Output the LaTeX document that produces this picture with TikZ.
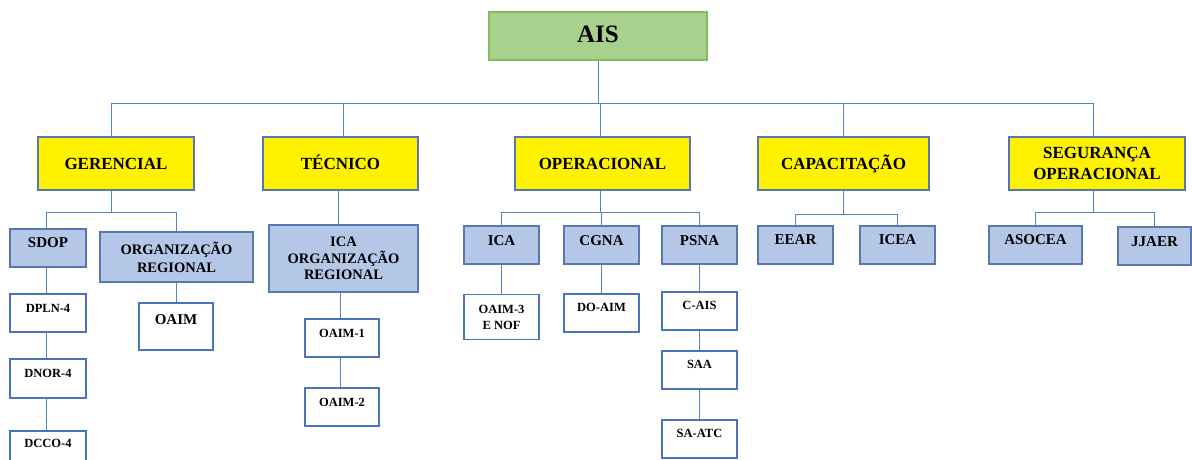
\documentclass[tikz,border=0pt]{standalone}
\usepackage{fontspec}
\setmainfont{Liberation Serif}
\definecolor{aisfill}{HTML}{A9D18E}
\definecolor{aisbord}{HTML}{82BC62}
\definecolor{ybord}{HTML}{5877B0}
\definecolor{bfill}{HTML}{B4C7E7}
\definecolor{bbord}{HTML}{5A78B0}
\definecolor{wbord}{HTML}{4A74BC}
\definecolor{lcol}{HTML}{5580C8}
\begin{document}
\begin{tikzpicture}[x=1pt,y=-1pt,
  box/.style={draw, rectangle, inner sep=0pt, line width=1.3pt, align=center},
  lvlzero/.style={box, fill=aisfill, draw=aisbord, font=\fontsize{25}{30}\selectfont\bfseries},
  lvlone/.style={box, fill=yellow, draw=ybord, font=\fontsize{17}{21}\selectfont\bfseries},
  lvltwo/.style={box, fill=bfill, draw=bbord, font=\fontsize{15}{17.5}\selectfont\bfseries},
  lvlthree/.style={box, fill=white, draw=wbord, font=\fontsize{12.5}{16}\selectfont\bfseries},
  sz/.style 2 args={minimum width=#1pt, minimum height=#2pt},
  cen/.style 2 args={text height=#1pt, text depth=#2pt},
  conn/.style={draw=lcol, line width=1pt}]
\useasboundingbox (0,0) rectangle (1192,460);
\clip (0,0) rectangle (1192,460);

% top
\node[lvlzero, sz={218}{48}, cen={16.5}{4}] (ais) at (598,36) {AIS};

% level one
\node[lvlone, sz={156}{53}, cen={11.3}{0}] (ger) at (116,163.5) {GERENCIAL};
\node[lvlone, sz={155}{53}, cen={11.3}{0}] (tec) at (340.5,163.5) {TÉCNICO};
\node[lvlone, sz={175}{53}, cen={11.3}{0}] (ope) at (602.5,163.5) {OPERACIONAL};
\node[lvlone, sz={171}{53}, cen={11.3}{0}] (cap) at (843.5,163.5) {CAPACITAÇÃO};
\node[lvlone, sz={176}{53}] (seg) at (1097,163.5) {SEGURANÇA\\OPERACIONAL};

% level two
\node[lvltwo, sz={76}{38}, cen={9.9}{10}] (sdop) at (48,248) {SDOP};
\node[lvltwo, sz={153}{50}, font=\fontsize{14.5}{18}\selectfont\bfseries] (orgreg) at (176.5,257) {ORGANIZAÇÃO\\REGIONAL};
\node[lvltwo, sz={149}{67}, font=\fontsize{14.5}{16.5}\selectfont\bfseries] (icaorg) at (343.5,258.5) {ICA\\ORGANIZAÇÃO\\REGIONAL};
\node[lvltwo, sz={75}{38}, cen={9.9}{8}] (ica) at (501.5,245) {ICA};
\node[lvltwo, sz={75}{38}, cen={9.9}{8}] (cgna) at (601.5,245) {CGNA};
\node[lvltwo, sz={75}{38}, cen={9.9}{8}] (psna) at (699.5,245) {PSNA};
\node[lvltwo, sz={75}{38}, cen={9.9}{10}] (eear) at (795.5,245) {EEAR};
\node[lvltwo, sz={75}{38}, cen={9.9}{10}] (icea) at (897.5,245) {ICEA};
\node[lvltwo, sz={93}{38}, cen={9.9}{10}] (asocea) at (1035.5,245) {ASOCEA};
\node[lvltwo, sz={73}{38}, cen={9.9}{8}] (jjaer) at (1154.5,246) {JJAER};

% level three
\node[lvlthree, sz={76}{38}, cen={8.3}{10}] (dpln) at (48,313) {DPLN-4};
\node[lvlthree, sz={76}{39}, cen={8.3}{10}] (dnor) at (48,378.5) {DNOR-4};
\node[lvlthree, sz={76}{38}, cen={8.3}{14}] (dcco) at (48,450) {DCCO-4};
\node[lvlthree, sz={74}{47}, cen={9.9}{14}, font=\fontsize{15}{18}\selectfont\bfseries] (oaim) at (176,326.5) {OAIM};
\node[lvlthree, sz={74}{38}, cen={8.3}{10}] (oaimone) at (342,338) {OAIM-1};
\node[lvlthree, sz={74}{38}, cen={8.3}{10}] (oaimtwo) at (342,407) {OAIM-2};
\node[lvlthree, sz={75}{45}] (oaimthree) at (501.5,317) {OAIM-3\\E NOF};
\node[lvlthree, sz={75}{38}, cen={8.3}{12}] (doaim) at (601.5,313) {DO-AIM};
\node[lvlthree, sz={75}{38}, cen={8.3}{12}] (cais) at (699.5,311) {C-AIS};
\node[lvlthree, sz={75}{38}, cen={8.3}{12}] (saa) at (699.5,370) {SAA};
\node[lvlthree, sz={75}{38}, cen={8.3}{12}] (saatc) at (699.5,439) {SA-ATC};

% connectors: top bus
\coordinate (bus) at (0,103);
\draw[conn] (ais.south) -- (ais.south |- bus);
\draw[conn] ([xshift=-5pt]ger.north) |- ([xshift=-4pt]seg.north |- bus) -- ([xshift=-4pt]seg.north);
\draw[conn] ([xshift=2.5pt]tec.north) -- ([xshift=2.5pt]tec.north |- bus);
\draw[conn] ([xshift=-2.5pt]ope.north) -- ([xshift=-2.5pt]ope.north |- bus);
\draw[conn] (cap.north) -- (cap.north |- bus);

% gerencial branch
\coordinate (gbar) at (0,212);
\draw[conn] ([xshift=-5pt]ger.south) -- ([xshift=-5pt]ger.south |- gbar);
\draw[conn] ([xshift=-2pt]sdop.north) |- (orgreg.north |- gbar) -- (orgreg.north);
\draw[conn] ([xshift=-2pt]sdop.south) -- ([xshift=-2pt]dpln.north);
\draw[conn] ([xshift=-2pt]dpln.south) -- ([xshift=-2pt]dnor.north);
\draw[conn] ([xshift=-2pt]dnor.south) -- ([xshift=-2pt]dcco.north);
\draw[conn] (orgreg.south) -- (orgreg.south |- oaim.north);

% tecnico branch
\draw[conn] ([xshift=-2.5pt]tec.south) -- ([xshift=-2.5pt]tec.south |- icaorg.north);
\draw[conn] ([xshift=-2pt]oaimone.north |- icaorg.south) -- ([xshift=-2pt]oaimone.north);
\draw[conn] ([xshift=-2pt]oaimone.south) -- ([xshift=-2pt]oaimtwo.north);

% operacional branch
\draw[conn] ([xshift=-2.5pt]ope.south) -- ([xshift=-2.5pt]ope.south |- gbar);
\draw[conn] (ica.north) |- (psna.north |- gbar) -- (psna.north);
\draw[conn] (cgna.north) -- (cgna.north |- gbar);
\draw[conn] (ica.south) -- (oaimthree.north);
\draw[conn] (cgna.south) -- (doaim.north);
\draw[conn] (psna.south) -- (cais.north);
\draw[conn] (cais.south) -- (saa.north);
\draw[conn] (saa.south) -- (saatc.north);

% capacitacao branch
\coordinate (cbar) at (0,214);
\draw[conn] (cap.south) -- (cap.south |- cbar);
\draw[conn] (eear.north) |- (icea.north |- cbar) -- (icea.north);

% seguranca branch
\draw[conn] ([xshift=-4pt]seg.south) -- ([xshift=-4pt]seg.south |- gbar);
\draw[conn] (asocea.north) |- (jjaer.north |- gbar) -- (jjaer.north);
\end{tikzpicture}
\end{document}
